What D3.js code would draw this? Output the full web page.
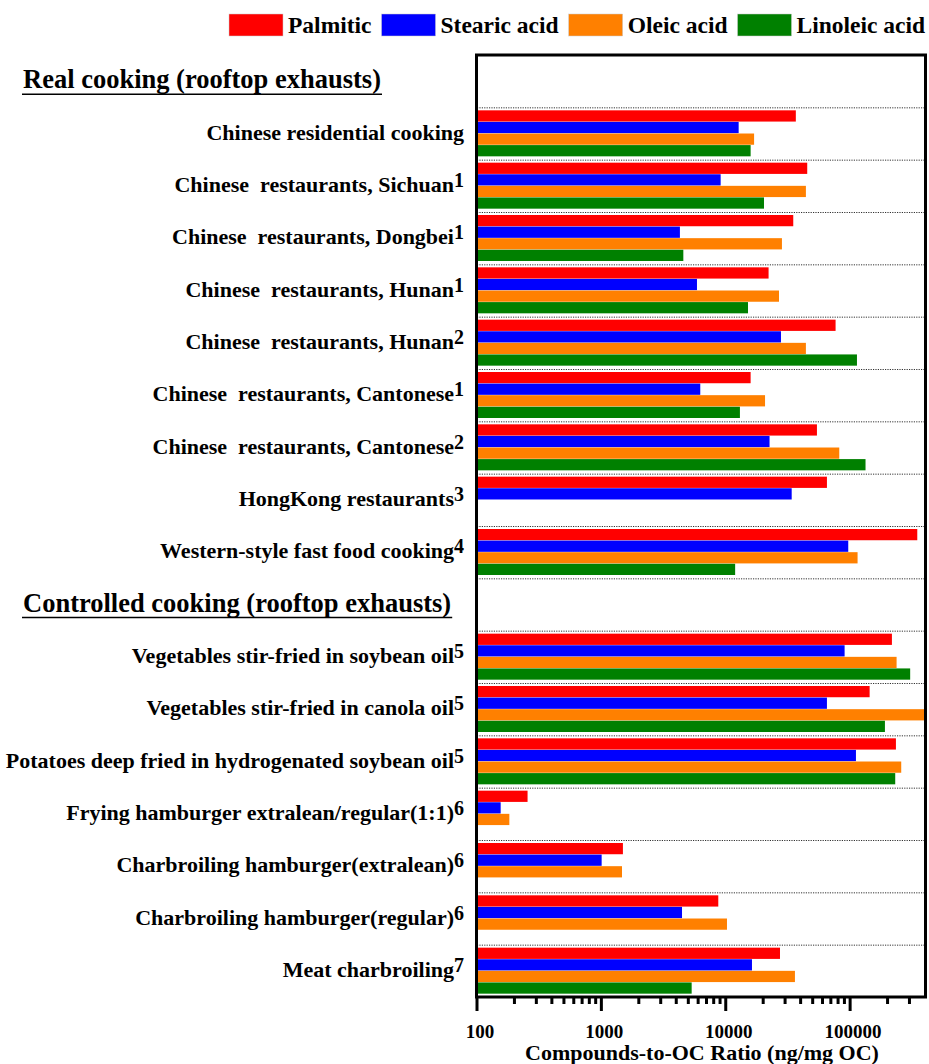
<!DOCTYPE html><meta charset="utf-8">
<style>
*{margin:0}
body{background:#fff}
text{font-family:"Liberation Serif","Times New Roman",serif;font-weight:bold;fill:#000;white-space:pre}
.grid{stroke:#333;stroke-width:1;stroke-dasharray:1.2 1.2}
</style>
<svg width="929" height="1064"></svg>
<script src="https://d3js.org/d3.v7.min.js"></script>
<script>
// rows top to bottom; "H:" marks a section header row
const rows = ["H:Real cooking (rooftop exhausts)",
  "Chinese residential cooking","Chinese  restaurants, Sichuan","Chinese  restaurants, Dongbei",
  "Chinese  restaurants, Hunan","Chinese  restaurants, Hunan ","Chinese  restaurants, Cantonese",
  "Chinese  restaurants, Cantonese ","HongKong restaurants","Western-style fast food cooking",
  "H:Controlled cooking (rooftop exhausts)",
  "Vegetables stir-fried in soybean oil","Vegetables stir-fried in canola oil",
  "Potatoes deep fried in hydrogenated soybean oil","Frying hamburger extralean/regular(1:1)",
  "Charbroiling hamburger(extralean)","Charbroiling hamburger(regular)","Meat charbroiling"];
const categories = rows.filter(r => !r.startsWith("H:"));
const refs = ["", "1","1","1","2","1","2","3","4", "5","5","5","6","6","6","7"];

const series = ["Palmitic","Stearic acid","Oleic acid","Linoleic acid"];
const colors = ["#ff0000","#0000ff","#ff8000","#008000"];
const palmitic = [36600,45200,34900,22100,76400,15850,54100,65100,346700, 216800,143500,233500,255,1490,8710,27300];
const stearic  = [12700,9100,4280,5870,27800,6240,22500,33900,96600, 90300,65100,111400,155,1005,4450,16250];
const oleic    = [16900,44100,28300,26800,44100,20700,81800,null,114800, 236400,400000,257600,182,1465,10230,36000];
const linoleic = [15850,20300,4560,15100,113500,13000,133000,null,11900, 304000,190500,230500,null,null,null,5320];
const values = [palmitic, stearic, oleic, linoleic];
const majorTicks = [100,1000,10000,100000];

const svg = d3.select("svg");
const L = 477, R = 925, T = 55, B = 997;

const x = d3.scaleLog().domain([100,400000]).range([L,R]);
const y = d3.scaleBand().domain(rows).range([T,B]);
const yIn = d3.scaleBand().domain(series).range([3,49]).paddingInner(0.03);

// dotted separators
svg.append("g").selectAll("line").data(rows.slice(1)).join("line")
   .attr("class","grid")
   .attr("x1",L).attr("x2",R)
   .attr("y1",d=>y(d)+0.5).attr("y2",d=>y(d)+0.5);

// bars
const bars = [];
categories.forEach((c,i)=>series.forEach((s,j)=>{
  if(values[j][i]!=null) bars.push({c,s,v:values[j][i],col:colors[j]});
}));
svg.append("g").selectAll("rect").data(bars).join("rect")
   .attr("x",L)
   .attr("y",d=>y(d.c)+yIn(d.s))
   .attr("width",d=>x(d.v)-L)
   .attr("height",yIn.bandwidth())
   .attr("fill",d=>d.col);

// frame
svg.append("rect").attr("x",L-0.5).attr("y",T).attr("width",R-L+1).attr("height",B-T)
   .attr("fill","none").attr("stroke","#000").attr("stroke-width",3);

// x axis ticks
const minor = [];
for(let e=2;e<=5;e++) for(let k=2;k<=9;k++){ const v=k*Math.pow(10,e); if(v<400000) minor.push(v); }
svg.append("g").selectAll("line").data(minor).join("line")
   .attr("x1",d=>x(d)).attr("x2",d=>x(d)).attr("y1",B).attr("y2",B+7)
   .attr("stroke","#000").attr("stroke-width",3);
svg.append("g").selectAll("line").data(majorTicks).join("line")
   .attr("x1",d=>x(d)).attr("x2",d=>x(d)).attr("y1",B).attr("y2",B+14)
   .attr("stroke","#000").attr("stroke-width",3);
svg.append("g").selectAll("text").data(majorTicks).join("text")
   .attr("x",d=>x(d)+3).attr("y",1038)
   .attr("text-anchor","middle").style("font-size","19px")
   .text(d=>d);
svg.append("text").attr("x",(L+R)/2+1).attr("y",1060)
   .attr("text-anchor","middle").style("font-size","22px")
   .text("Compounds-to-OC Ratio (ng/mg OC)");

// category labels
const lab = svg.append("g").selectAll("text").data(categories).join("text")
   .attr("x",464).attr("y",d=>y(d)+y.bandwidth()/2+6)
   .attr("text-anchor","end").style("font-size","22px");
lab.append("tspan").text(d=>d.trimEnd());
lab.append("tspan").attr("dy",-5).style("font-size","20px").text((d,i)=>refs[i]);

// section headers
const heads = rows.filter(r=>r.startsWith("H:"));
heads.forEach(h=>{
  const t = svg.append("text").attr("x",23).attr("y",y(h)+y.bandwidth()/2+7)
     .style("font-size","26.5px").text(h.slice(2));
  const w = t.node().getComputedTextLength();
  svg.append("line").attr("x1",22).attr("x2",24+w)
     .attr("y1",y(h)+y.bandwidth()/2+13).attr("y2",y(h)+y.bandwidth()/2+13)
     .attr("stroke","#000").attr("stroke-width",1.5);
});

// legend
const lg = svg.append("g");
let lx = 229;
series.forEach((s,j)=>{
  lg.append("rect").attr("x",lx).attr("y",14).attr("width",54).attr("height",22)
    .attr("fill",colors[j]).attr("stroke","#ccc").attr("stroke-width",0.5);
  const t = lg.append("text").attr("x",lx+59).attr("y",33).style("font-size","23.5px").text(s);
  lx += 59 + t.node().getComputedTextLength() + 10;
});
</script>
